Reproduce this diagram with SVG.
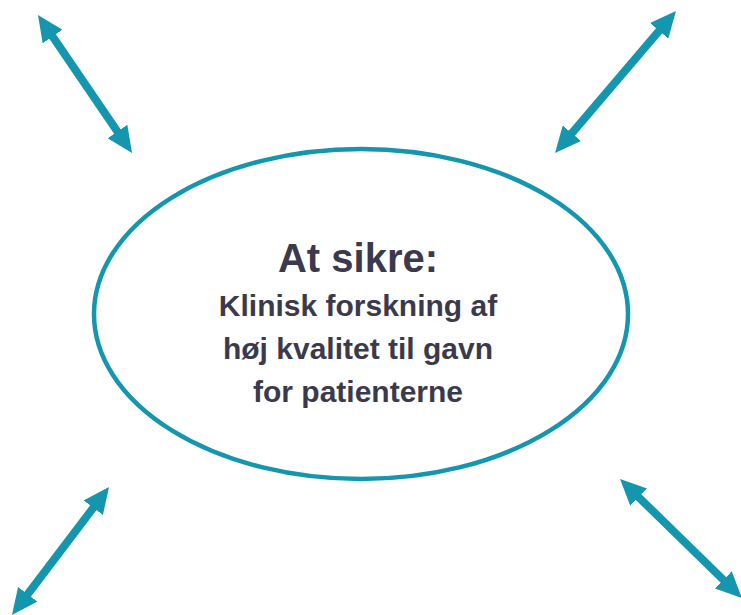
<svg xmlns="http://www.w3.org/2000/svg" width="741" height="615" viewBox="0 0 741 615">
<style>
.arr{stroke:#1496ae;stroke-width:8;fill:none;marker-start:url(#ah);marker-end:url(#ah)}
.t{font-family:"Liberation Sans",Arial,sans-serif;font-weight:bold;fill:#3b3a4c;text-anchor:middle}
</style>
<defs>
<marker id="ah" markerUnits="userSpaceOnUse" viewBox="0 -12 26 24" refX="16" refY="0" markerWidth="26" markerHeight="24" orient="auto-start-reverse">
<path d="M0,-12 L26,0 L0,12 z" fill="#1496ae"/>
</marker>
</defs>
<rect width="741" height="615" fill="#ffffff"/>
<g id="connectors">
<line class="arr" x1="43.6" y1="23.3" x2="126.4" y2="144.7"/>
<line class="arr" x1="669.5" y1="18.6" x2="561.5" y2="145.4"/>
<line class="arr" x1="103" y1="495" x2="18" y2="607"/>
<line class="arr" x1="627.2" y1="486" x2="734.8" y2="591"/>
</g>
<g id="center">
<ellipse cx="361" cy="314" rx="267" ry="165" fill="none" stroke="#1496ae" stroke-width="4.5"/>
<text class="t" x="358" y="272" font-size="40">At sikre:</text>
<text class="t" x="358" y="316" font-size="30">Klinisk forskning af</text>
<text class="t" x="358" y="359" font-size="30">høj kvalitet til gavn</text>
<text class="t" x="358" y="402" font-size="30">for patienterne</text>
</g>
</svg>
